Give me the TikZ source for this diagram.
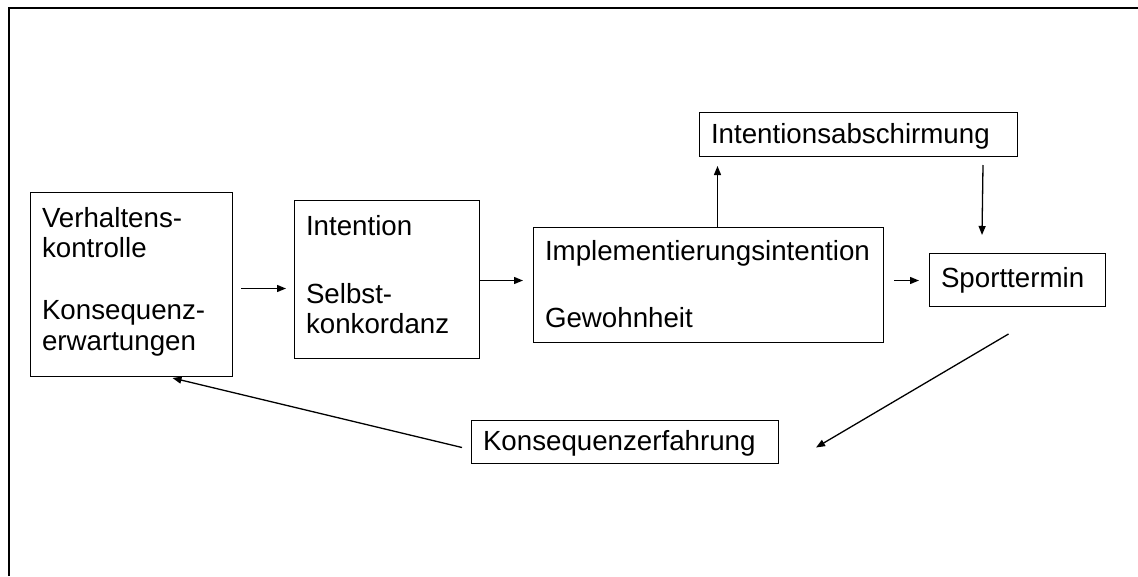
\documentclass[tikz,border=0pt]{standalone}
\usepackage{fontspec}
\setmainfont{Liberation Sans}
\usetikzlibrary{arrows.meta,calc}
\begin{document}
\hyphenpenalty=10000
\exhyphenpenalty=10000
\begin{tikzpicture}[x=1pt,y=-1pt,
  box/.style={draw, line width=1pt, anchor=north west, inner xsep=11.5pt,
    inner ysep=0pt, align=left,
    font=\fontsize{27.7}{30.7}\selectfont},
  arr/.style={line width=1.3pt, -{Triangle[length=9pt,width=7pt]}},
  frame/.style={line width=2pt}]
\useasboundingbox (0,0) rectangle (1138,576);
% outer frame
\draw[frame] (9,576) -- (9,8) -- (1138,8);

% boxes
\node[box, text width=179pt, text height=34.7pt, text depth=149.3pt] (vk) at (30,192)
  {Verhaltens-\\kontrolle\\[30.7pt]Konsequenz-\\erwartungen};
\node[box, text width=162pt, text height=35pt, text depth=123pt] (in) at (294,200)
  {Intention\\[37pt]Selbst-\\konkordanz};
\node[box, text width=327pt, text height=33pt, text depth=82pt] (im) at (533,227)
  {Implementierungsintention\\[36.3pt]Gewohnheit};
\node[box, text width=295pt, text height=31pt, text depth=13pt] (ab) at (699,112)
  {Intentionsabschirmung};
\node[box, text width=153pt, text height=34pt, text depth=19pt] (sp) at (929,253)
  {Sporttermin};
\node[box, text width=284pt, text height=30pt, text depth=13pt] (ke) at (471,420)
  {Konsequenzerfahrung};

% connectors
\draw[arr] ($(vk.east)+(8,4)$) -- ($(in.west)+(-8,9)$);
\draw[arr] ($(in.east)+(0,1)$) -- ($(im.west)+(-10,-4.5)$);
\draw[arr] ($(im.north)+(9,0)$) -- ($(im.north |- ab.south)+(9,9)$);
\draw[arr] ($(ab.south east)+(-35,8)$) -- ($(sp.north west)+(53,-18)$);
\draw[arr] ($(im.east)+(10,-4.5)$) -- ($(sp.west)+(-10,0.5)$);
\draw[arr] ($(sp.south)+(-9,27)$) -- ($(ke.east)+(37,5.5)$);
\draw[arr] ($(ke.west)+(-9,5.5)$) -- ($(vk.south)+(41,1)$);
\end{tikzpicture}
\end{document}
